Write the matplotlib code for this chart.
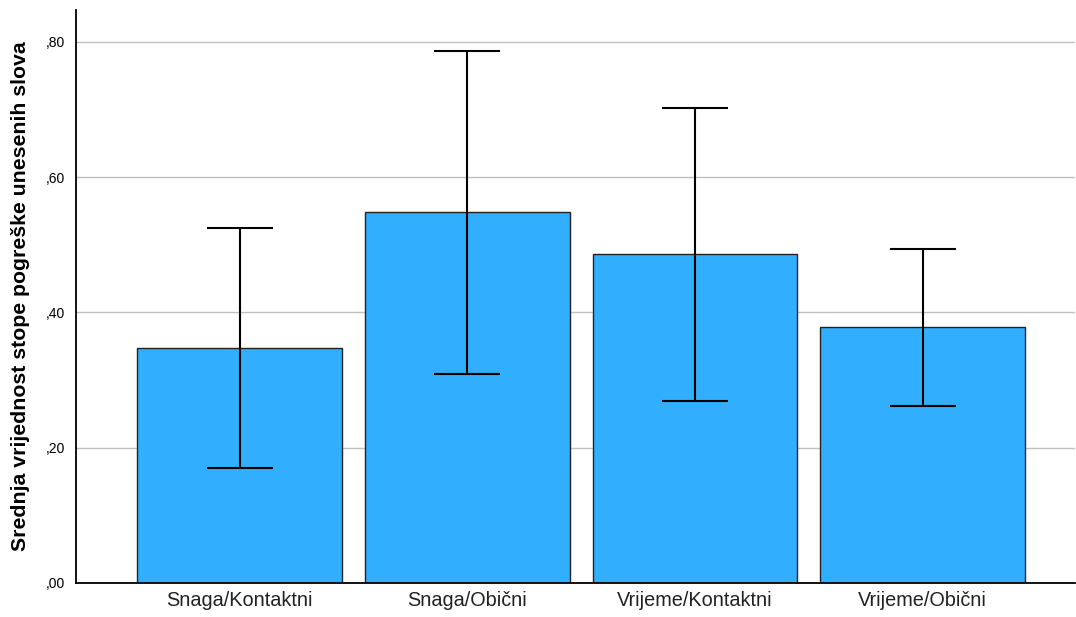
import matplotlib
matplotlib.use("Agg")
import matplotlib.pyplot as plt
from matplotlib.ticker import FuncFormatter

categories = ["Snaga/Kontaktni", "Snaga/Obični", "Vrijeme/Kontaktni", "Vrijeme/Obični"]
means = [0.347, 0.548, 0.486, 0.378]
ci_low = [0.170, 0.309, 0.269, 0.262]
ci_high = [0.525, 0.787, 0.702, 0.494]

plt.rcParams['font.family'] = ['Liberation Sans', 'DejaVu Sans']

fig = plt.figure(figsize=(10.76, 6.17), dpi=100)
ax = fig.add_axes([76/1076, 34/617, 999/1076, 573/617])

x = list(range(len(categories)))
ax.bar(x, means, width=0.9, color="#31AFFE", edgecolor="#222222", linewidth=1.0, zorder=2)
yerr = [[m - l for m, l in zip(means, ci_low)], [h - m for m, h in zip(means, ci_high)]]
ax.errorbar(x, means, yerr=yerr, fmt="none", ecolor="black", elinewidth=1.5,
            capsize=24, capthick=1.5, zorder=3)

ax.set_xlim(-0.72, 3.67)
ax.set_ylim(0, 0.847)
ax.set_yticks([0, 0.2, 0.4, 0.6, 0.8])
ax.yaxis.set_major_formatter(FuncFormatter(lambda v, p: ("%.2f" % v).replace("0.", ",", 1)))
ax.yaxis.grid(True, color="#C0C0C0", linewidth=1.0, zorder=0)
ax.set_axisbelow(True)
ax.set_xticks(x)
ax.set_xticklabels(categories, fontsize=14.3, color="#222222")
ax.tick_params(axis="y", length=0, labelsize=10, pad=8)
ax.tick_params(axis="x", length=0, pad=6)
for s in ["top", "right"]:
    ax.spines[s].set_visible(False)
ax.spines["left"].set_linewidth(1.3)
ax.spines["bottom"].set_linewidth(1.3)
ax.set_ylabel("Srednja vrijednost stope pogreške unesenih slova", fontsize=15.3,
              fontweight="bold", labelpad=11)

fig.savefig("out.png", dpi=100)
